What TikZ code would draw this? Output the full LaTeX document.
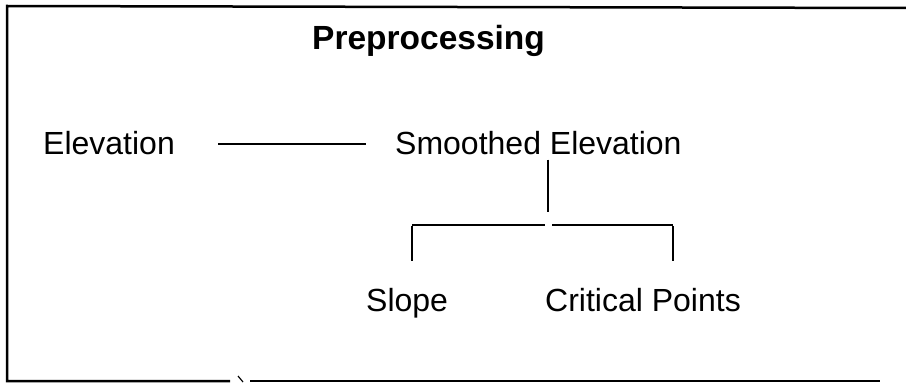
\documentclass[tikz,border=0pt]{standalone}
\usepackage{fontspec}
\setmainfont{Liberation Sans}
\begin{document}
\begin{tikzpicture}[x=1pt,y=-1pt,
  lbl/.style={inner sep=0pt, anchor=base west, font=\fontsize{32}{38}\selectfont},
  ttl/.style={inner sep=0pt, anchor=base west, font=\fontsize{33.5}{40}\selectfont\bfseries},
  conn/.style={line width=2pt, line cap=butt},
  frame/.style={line width=2.5pt}]
\useasboundingbox (0,0) rectangle (906,385);
% frame (left, top, bottom; no right side)
\draw[frame] (906,8) -- (7,6) -- (7,381) -- (230,381);
\draw[line width=1.2pt] (238,376) -- (243,382);
\draw[frame] (250,381) -- (880,381);
% texts
\node[ttl] (title) at (312,50) {Preprocessing};
\node[lbl] (elev) at (43,155) {Elevation};
\node[lbl] (smooth) at (395,155) {Smoothed Elevation};
\node[lbl] (slope) at (366,311) {Slope};
\node[lbl] (crit) at (545,311) {Critical Points};
% junction coordinates
\coordinate (j) at (548,225);
\coordinate (bl) at (412,225);
\coordinate (br) at (673,225);
% connectors
\draw[conn, shorten <=43pt, shorten >=29pt] (elev.east) -- (smooth.west);
\draw[conn, shorten <=4pt, shorten >=13pt] (smooth.south -| j) -- (j);
\draw[conn] (bl) -- ([xshift=-3pt]j);
\draw[conn] ([xshift=4pt]j) -- (br);
\draw[conn, shorten >=27pt] ([yshift=-1pt]bl) -- (bl |- slope.north);
\draw[conn, shorten >=27pt] ([yshift=-1pt]br) -- (br |- crit.north);
\end{tikzpicture}
\end{document}
